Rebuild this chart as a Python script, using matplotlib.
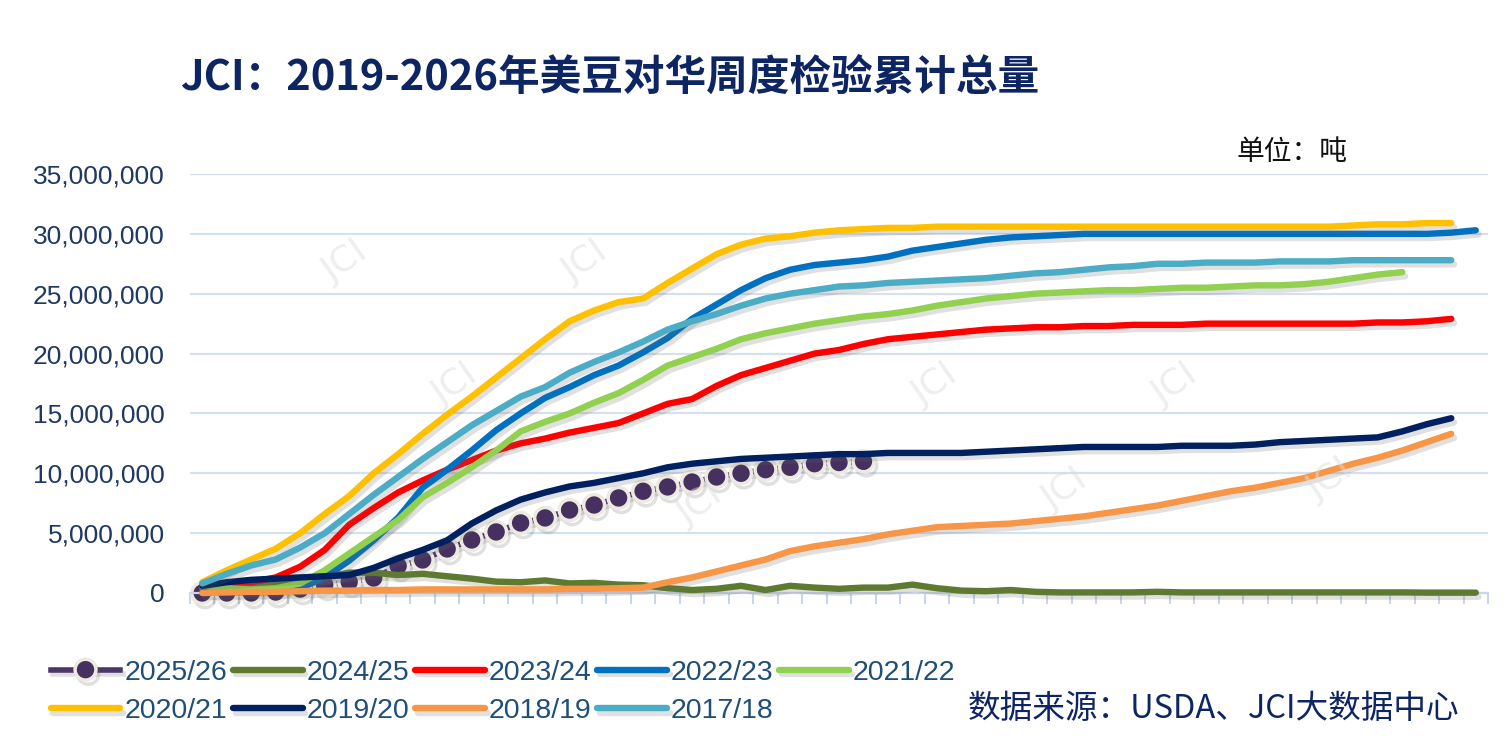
import matplotlib
matplotlib.use("Agg")
import matplotlib.pyplot as plt
import matplotlib.patheffects as pe
from matplotlib.ticker import FuncFormatter, MultipleLocator
import numpy as np

plt.rcParams['font.family'] = ['Noto Sans CJK SC', 'DejaVu Sans']

# cumulative inspections, million tonnes, one value per week
s2526 = [0, 0, 0, 0.08, 0.33, 0.67, 0.92, 1.25, 2.26, 2.76, 3.68, 4.43, 5.1, 5.85,
         6.27, 6.93, 7.35, 7.94, 8.5, 8.86, 9.27, 9.69, 10.0, 10.3, 10.5, 10.8, 10.9, 11.0]
s2425 = [0.3, 0.5, 0.7, 0.9, 1.1, 1.3, 1.7, 1.7, 1.5, 1.6,
         1.4, 1.2, 0.95, 0.9, 1.05, 0.8, 0.85, 0.7, 0.65, 0.4,
         0.25, 0.35, 0.6, 0.25, 0.6, 0.45, 0.35, 0.45, 0.45, 0.7,
         0.4, 0.2, 0.15, 0.25, 0.1, 0.05, 0.05, 0.05, 0.05, 0.1,
         0.05, 0.05, 0.05, 0.05, 0.05, 0.05, 0.05, 0.05, 0.05, 0.05,
         0.03, 0.03, 0.03]
s2324 = [0.6, 0.8, 0.9, 1.3, 2.2, 3.6, 5.7, 7.1, 8.4, 9.4,
         10.3, 11.1, 11.9, 12.5, 12.9, 13.4, 13.8, 14.2, 15.0, 15.8,
         16.2, 17.3, 18.2, 18.8, 19.4, 20.0, 20.3, 20.8, 21.2, 21.4,
         21.6, 21.8, 22.0, 22.1, 22.2, 22.2, 22.3, 22.3, 22.4, 22.4,
         22.4, 22.5, 22.5, 22.5, 22.5, 22.5, 22.5, 22.5, 22.6, 22.6,
         22.7, 22.9]
s2223 = [0.6, 0.4, 0.3, 0.3, 0.4, 1.3, 2.7, 4.4, 6.3, 8.8,
         10.3, 11.9, 13.6, 15.0, 16.3, 17.2, 18.2, 19.0, 20.1, 21.3,
         22.9, 24.1, 25.3, 26.3, 27.0, 27.4, 27.6, 27.8, 28.1, 28.6,
         28.9, 29.2, 29.5, 29.7, 29.8, 29.9, 30.0, 30.0, 30.0, 30.0,
         30.0, 30.0, 30.0, 30.0, 30.0, 30.0, 30.0, 30.0, 30.0, 30.0,
         30.0, 30.1, 30.3]
s2122 = [0.6, 0.4, 0.3, 0.4, 0.8, 1.9, 3.3, 4.7, 6.1, 8.0,
         9.2, 10.5, 11.9, 13.5, 14.3, 15.0, 15.9, 16.7, 17.8, 19.0,
         19.7, 20.4, 21.2, 21.7, 22.1, 22.5, 22.8, 23.1, 23.3, 23.6,
         24.0, 24.3, 24.6, 24.8, 25.0, 25.1, 25.2, 25.3, 25.3, 25.4,
         25.5, 25.5, 25.6, 25.7, 25.7, 25.8, 26.0, 26.3, 26.6, 26.8]
s2021 = [0.9, 1.9, 2.8, 3.7, 5.0, 6.6, 8.1, 10.0, 11.6, 13.3,
         14.9, 16.4, 18.0, 19.6, 21.2, 22.7, 23.6, 24.3, 24.6, 25.9,
         27.1, 28.3, 29.1, 29.6, 29.8, 30.1, 30.3, 30.4, 30.5, 30.5,
         30.6, 30.6, 30.6, 30.6, 30.6, 30.6, 30.6, 30.6, 30.6, 30.6,
         30.6, 30.6, 30.6, 30.6, 30.6, 30.6, 30.6, 30.7, 30.8, 30.8,
         30.9, 30.9]
s1920 = [0.6, 0.9, 1.1, 1.2, 1.3, 1.4, 1.5, 2.1, 2.9, 3.6,
         4.4, 5.8, 6.9, 7.8, 8.4, 8.9, 9.2, 9.6, 10.0, 10.5,
         10.8, 11.0, 11.2, 11.3, 11.4, 11.5, 11.6, 11.6, 11.7, 11.7,
         11.7, 11.7, 11.8, 11.9, 12.0, 12.1, 12.2, 12.2, 12.2, 12.2,
         12.3, 12.3, 12.3, 12.4, 12.6, 12.7, 12.8, 12.9, 13.0, 13.5,
         14.1, 14.6]
s1819 = [0.0, 0.05, 0.1, 0.1, 0.15, 0.2, 0.2, 0.25, 0.25, 0.3,
         0.3, 0.3, 0.3, 0.3, 0.3, 0.35, 0.35, 0.4, 0.45, 0.9,
         1.3, 1.8, 2.3, 2.8, 3.5, 3.9, 4.2, 4.5, 4.9, 5.2,
         5.5, 5.6, 5.7, 5.8, 6.0, 6.2, 6.4, 6.7, 7.0, 7.3,
         7.7, 8.1, 8.5, 8.8, 9.2, 9.6, 10.2, 10.8, 11.3, 11.9,
         12.6, 13.3]
s1718 = [0.8, 1.6, 2.3, 2.8, 3.8, 5.0, 6.6, 8.2, 9.7, 11.2,
         12.6, 14.0, 15.2, 16.4, 17.2, 18.4, 19.3, 20.1, 21.0, 22.0,
         22.7, 23.3, 24.0, 24.6, 25.0, 25.3, 25.6, 25.7, 25.9, 26.0,
         26.1, 26.2, 26.3, 26.5, 26.7, 26.8, 27.0, 27.2, 27.3, 27.5,
         27.5, 27.6, 27.6, 27.6, 27.7, 27.7, 27.7, 27.8, 27.8, 27.8,
         27.8, 27.8]

labels = ['2025/26', '2024/25', '2023/24', '2022/23', '2021/22',
          '2020/21', '2019/20', '2018/19', '2017/18']
series = [s2526, s2425, s2324, s2223, s2122, s2021, s1920, s1819, s1718]
colors = ['#4A3868', '#5E7A30', '#FF0000', '#0070C0', '#92D050',
          '#FFC000', '#002060', '#F79646', '#4BACC6']
n_weeks = 53

W, H = 1510, 750
fig = plt.figure(figsize=(W / 100, H / 100), dpi=100)
ax = fig.add_axes([190 / W, 1 - 593 / H, (1488 - 190) / W, (593 - 174) / H])

shadow = [pe.SimpleLineShadow(offset=(2, -3), shadow_color='#666666', alpha=0.2),
          pe.Normal()]

handles = []
for k, (lab, vals, c) in enumerate(zip(labels, series, colors)):
    x = np.arange(len(vals))
    y = np.array(vals) * 1e6
    if k == 0:
        h, = ax.plot(x, y, color=c, lw=4, marker='o', ms=15, mfc='#45305F',
                     mec='#EDEAE0', mew=2.5, zorder=2 + k, clip_on=False,
                     path_effects=shadow, label=lab)
    else:
        h, = ax.plot(x, y, color=c, lw=4.6, zorder=2 + k, clip_on=False,
                     solid_capstyle='round', path_effects=shadow, label=lab)
    handles.append(h)

ax.set_xlim(-0.5, n_weeks - 0.5)
ax.set_ylim(0, 35e6)
ax.yaxis.set_major_locator(MultipleLocator(5e6))
ax.yaxis.set_major_formatter(FuncFormatter(lambda v, p: f'{int(v):,}'))
ax.grid(axis='y', color='#D5E0F1', lw=1.6)
ax.set_axisbelow(True)
for s in ['top', 'right', 'left']:
    ax.spines[s].set_visible(False)
ax.spines['bottom'].set_color('#C9D6EA')
ax.spines['bottom'].set_linewidth(1.6)
ax.set_xticks(np.arange(-0.5, n_weeks, 1.0))
ax.tick_params(axis='x', length=8, width=1.5, color='#C9D6EA', labelbottom=False)
ax.tick_params(axis='y', length=0, pad=18, labelsize=19, labelcolor='#1F3864')
for t in ax.get_yticklabels():
    t.set_family(['Liberation Sans', 'DejaVu Sans'])

# faint watermarks
for wx, wy in [(345, 262), (585, 262), (455, 385), (935, 385), (1175, 385),
               (700, 505), (1065, 490), (1330, 480)]:
    fig.text(wx / W, 1 - wy / H, 'JCI', fontsize=26, color='#DDDDDD', alpha=0.5,
             rotation=35, ha='center', va='center', family=['DejaVu Sans'], zorder=0)

fig.text(180 / W, 1 - 78 / H, 'JCI：2019-2026年美豆对华周度检验累计总量',
         fontsize=30, fontweight='bold', color='#0D2562', ha='left', va='center')
fig.text(1237 / W, 1 - 152 / H, '单位：吨', fontsize=20, color='#111111',
         ha='left', va='center')
fig.text(968 / W, 1 - 709 / H, '数据来源：USDA、JCI大数据中心', fontsize=23.5,
         color='#0D2562', ha='left', va='center')

order = [0, 5, 1, 6, 2, 7, 3, 8, 4]
leg = fig.legend([handles[i] for i in order], [labels[i] for i in order],
                 ncol=5, loc='upper left', bbox_to_anchor=(25 / W, 1 - 634 / H),
                 frameon=False, handlelength=2.45, handletextpad=0.14,
                 columnspacing=0.2, labelspacing=0.45,
                 prop={'family': ['Liberation Sans', 'DejaVu Sans'], 'size': 20.5})
for t in leg.get_texts():
    t.set_color('#1F4E79')

fig.savefig('out.png', dpi=100)
